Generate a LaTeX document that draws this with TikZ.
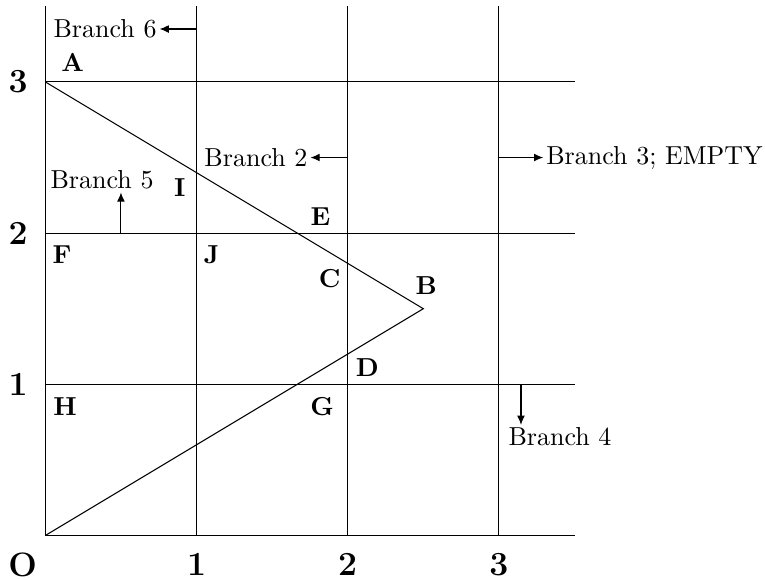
\documentclass[tikz,border=0pt]{standalone}
\usepackage{tikz}
\usetikzlibrary{arrows.meta}
\begin{document}
\begin{tikzpicture}[x=2.044cm, y=2.044cm,
  pt/.style={font=\bfseries},
  ax/.style={font=\fontsize{13}{15}\selectfont\bfseries, inner sep=0pt},
  br/.style={inner sep=1pt},
  brarrow/.style={-{Latex[length=3.5pt,width=3pt]}}]
  \useasboundingbox (-0.3,-0.288) rectangle (4.76,3.542);
  % grid
  \draw (0,3.5) -- (0,0) -- (3.5,0);
  \foreach \i in {1,2,3} {
    \draw (\i,0) -- (\i,3.5);
    \draw (0,\i) -- (3.5,\i);
  }
  % triangle
  \draw (0,3) -- (2.5,1.5) -- (0,0);
  % axis labels
  \node[ax] (o) at (-0.15,-0.193) {O};
  \foreach \i in {1,2,3} {
    \node[ax] (x\i) at (\i,-0.193) {\i};
    \node[ax] (y\i) at (-0.18,\i) {\i};
  }
  % points
  \node[pt] (A) at (0.18,3.13) {A};
  \node[pt] (I) at (0.89,2.30) {I};
  \node[pt] (E) at (1.82,2.11) {E};
  \node[pt] (F) at (0.11,1.855) {F};
  \node[pt] (J) at (1.10,1.86) {J};
  \node[pt] (C) at (1.88,1.70) {C};
  \node[pt] (B) at (2.52,1.65) {B};
  \node[pt] (D) at (2.13,1.11) {D};
  \node[pt] (H) at (0.13,0.85) {H};
  \node[pt] (G) at (1.83,0.855) {G};
  % branches
  \coordinate (s6) at (1,3.35);
  \node[br] (b6) at (0.395,3.35) {Branch 6};
  \draw[brarrow] (s6) -- (b6);
  \coordinate (s2) at (2,2.5);
  \node[br] (b2) at (1.393,2.5) {Branch 2};
  \draw[brarrow] (s2) -- (b2);
  \coordinate (s3) at (3,2.5);
  \node[br] (b3) at (4.029,2.5) {Branch 3; EMPTY};
  \draw[brarrow] (s3) -- (b3);
  \coordinate (s5) at (0.5,2);
  \node[br] (b5) at (0.375,2.351) {Branch 5};
  \draw[brarrow] (s5) -- (s5 |- b5.south);
  \coordinate (s4) at (3.146,1);
  \node[br] (b4) at (3.404,0.651) {Branch 4};
  \draw[brarrow] (s4) -- (s4 |- b4.north);
\end{tikzpicture}
\end{document}
